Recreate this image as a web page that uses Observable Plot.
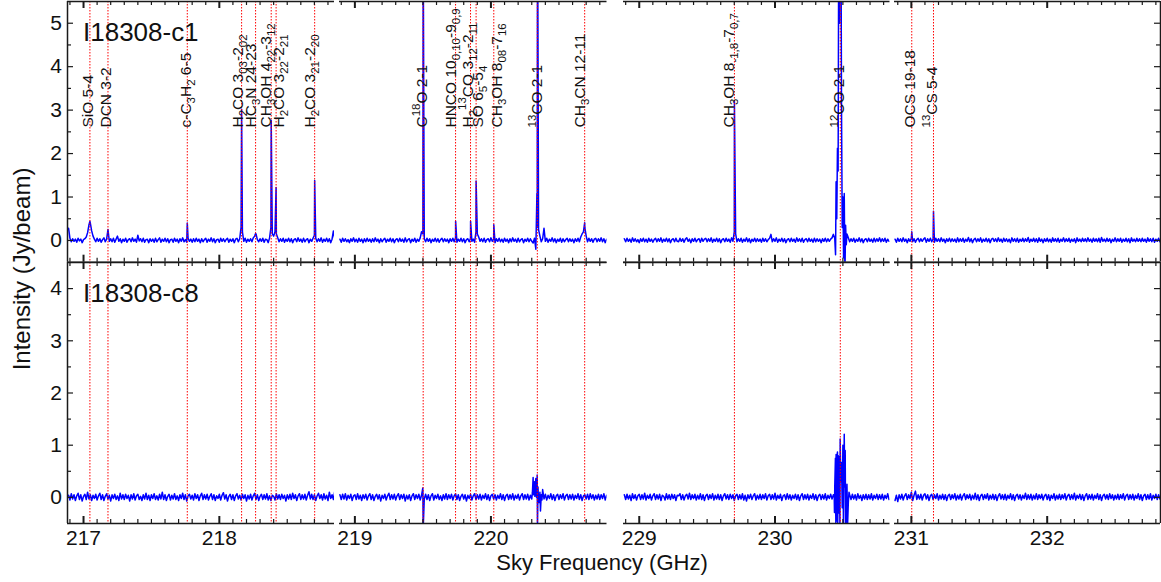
<!DOCTYPE html>
<html><head><meta charset="utf-8">
<script src="https://cdn.jsdelivr.net/npm/d3@7"></script>
<script src="https://cdn.jsdelivr.net/npm/@observablehq/plot@0.6"></script>
<style>
html,body{margin:0;padding:0;background:#fff;}
#chart{position:relative;width:1161px;height:582px;overflow:hidden;font-family:"Liberation Sans",Arial,Helvetica,sans-serif;}
#chart svg{position:absolute;overflow:visible;background:transparent;}
</style></head><body><div id="chart"></div>
<script>
// ---------------- DATA ----------------
const sources = ["I18308-c1", "I18308-c8"];
const chanWidth = 0.01; // GHz per channel
const segStart = [216.89, 218.89, 228.89, 230.88]; // first channel of each spectral window (GHz)
const segDomains = [[216.882, 218.848], [218.887, 220.853], [228.884, 230.847], [230.876, 232.834]];
const yDomains = [[-0.5, 5.5], [-0.5, 4.5]];
const xTickLabels = [217, 218, 219, 220, 229, 230, 231, 232];
const yTicksTop = [0, 1, 2, 3, 4, 5];
const yTicksBottom = [0, 1, 2, 3, 4];
const yMinorTop = [0.5, 1.5, 2.5, 3.5, 4.5];
const yMinorBottom = [0.5, 1.5, 2.5, 3.5];

// line identifications (sky frequency, GHz)
const lineFreqs = [217.047, 217.180, 217.764, 218.164, 218.267, 218.382, 218.418, 218.702,
  219.502, 219.740, 219.850, 219.891, 220.021, 220.341, 220.689,
  229.701, 230.481, 231.003, 231.163];
const lineLabels = ["SiO 5-4", "DCN 3-2", "c-C_3H_2 6-5", "H_2CO 3_{03}-2_{02}", "HC_3N 24-23",
  "CH_3OH 4_{22}-3_{12}", "H_2CO 3_{22}-2_{21}", "H_2CO 3_{21}-2_{20}",
  "C^{18}O 2-1", "HNCO 10_{0,10}-9_{0,9}", "H_2^{13}CO 3_{12}-2_{11}", "SO 6_5-5_4",
  "CH_3OH 8_{08}-7_{16}", "^{13}CO 2-1", "CH_3CN 12-11",
  "CH_3OH 8_{-1,8}-7_{0,7}", "^{12}CO 2-1", "OCS 19-18", "^{13}CS 5-4"];

// I18308-c1 spectra (Jy/beam), one value per channel
const c1Seg1 = [.28,.05,-.03,.04,-.02,.03,-.04,.05,-.01,.03,-.05,.02,.04,.08,.18,.36,.4,.22,.1,.03,
-.03,.05,-.02,.04,-.04,.02,.06,-.03,.03,.25,-.02,.04,-.03,.05,-.04,.03,.1,-.02,.04,-.05,
.03,-.02,.05,-.04,.02,.04,-.03,.06,-.02,.03,-.04,.12,-.01,.04,-.03,.05,-.04,.02,.03,-.05,
.04,-.02,.03,-.04,.05,-.03,.02,.06,-.04,.03,-.02,.05,-.03,.04,-.05,.02,.03,-.04,.05,-.02,
.03,-.05,.04,-.02,.06,-.03,.02,-.04,.05,-.02,.03,-.04,.04,-.03,.05,-.02,.03,-.05,.04,-.03,
.02,.05,-.04,.03,-.02,.06,-.03,.04,-.05,.02,.03,-.04,.05,-.02,.04,-.03,.02,.05,-.04,.03,
-.02,.04,-.05,.03,.05,-.03,.04,.3,.2,-.02,.05,-.04,.03,-.02,.04,-.03,.06,.1,.15,.02,
-.03,.04,-.02,.05,-.04,.03,.02,-.05,.06,.3,.15,.1,.2,.15,.06,-.03,.04,-.02,.05,-.04,
.03,-.02,.05,-.03,.04,-.05,.02,.04,-.03,.06,-.02,.03,-.04,.05,-.03,.02,.04,-.05,.03,-.02,
.05,.12,.05,-.03,.04,-.02,.06,-.04,.03,-.02,.05,-.03,.04,-.05,.03,.22,.04,-.03,.05,-.02];
const c1Seg2 = [.03,-.04,.05,-.02,.04,-.03,.02,-.05,.04,-.02,.06,-.03,.03,-.04,.05,-.02,.03,-.05,.04,-.03,
.05,-.02,.03,-.04,.04,-.03,.06,-.02,.03,-.05,.04,-.03,.02,.05,-.04,.03,-.02,.05,-.03,.04,
-.05,.02,.04,-.03,.05,-.02,.03,-.04,.06,-.03,.02,.04,-.05,.03,-.02,.05,-.04,.03,-.02,.06,
.2,.15,.04,-.03,.05,-.02,.04,-.05,.03,-.02,.05,-.03,.04,-.04,.02,.05,-.03,.04,-.02,.03,
-.05,.04,-.02,.05,-.03,.06,-.04,.03,-.02,.05,-.03,.04,-.05,.02,.04,-.03,.05,-.02,.03,-.04,
.2,.15,.08,-.02,.04,-.03,.05,-.04,.02,.04,-.03,.06,-.02,.03,-.05,.04,-.02,.05,-.03,.03,
-.04,.05,-.02,.03,-.05,.04,-.03,.06,-.02,.03,-.04,.05,-.03,.02,.04,-.05,.03,-.02,.05,-.03,
.04,-.02,-.06,.05,-.2,.3,.25,.1,-.03,.04,.28,-.02,.05,-.04,.03,-.02,.06,-.03,.04,-.05,
.03,-.02,.05,-.04,.04,-.03,.02,.05,-.03,.04,-.02,.03,-.05,.04,-.02,.05,-.03,.08,.15,.2,
.3,.1,-.03,.05,-.02,.04,-.04,.03,.05,-.03,.04,-.02,.06,-.03,.04,-.05,.03,-.02];
const c1Seg3 = [.04,-.03,.05,-.02,.03,-.04,.06,-.02,.04,-.03,.02,-.05,.04,-.02,.05,-.03,.03,-.04,.05,-.02,
.03,-.04,.02,.05,-.03,.04,-.02,.06,-.04,.03,-.02,.05,-.03,.04,-.05,.02,.04,-.03,.05,-.02,
-.03,.05,-.02,.04,-.04,.03,.06,-.02,.03,-.05,.04,-.02,.05,-.03,.02,.04,-.04,.05,-.02,.03,
.05,-.03,.04,-.02,.06,-.04,.03,-.02,.05,-.03,.04,-.05,.02,.04,-.03,.05,-.02,.03,-.04,.06,
-.02,.2,.15,-.03,.04,-.02,.05,-.04,.03,-.02,.06,-.03,.04,-.05,.03,-.02,.05,-.03,.04,-.02,
.03,-.04,.05,-.02,.04,-.03,.02,.05,.14,-.03,.04,-.02,.06,-.04,.03,-.02,.05,-.03,.04,-.05,
.02,.04,-.03,.05,-.02,.03,-.04,.06,-.02,.04,-.03,.05,-.04,.02,.04,-.03,.05,-.02,.03,-.04,
.05,-.03,.04,-.02,.03,-.05,.04,-.02,.05,-.03,.04,-.02,.03,.06,.14,.05,1.35,2.12,8,8,
3,1.0,1.08,.35,.15,.06,-.03,.04,-.02,.05,-.04,.03,-.02,.06,-.03,.04,-.05,.02,.04,-.03,
.05,-.02,.03,-.04,.05,-.03,.04,-.02,.06,-.03,.04,-.02,.05,-.04,.03,-.02];
const c1Seg4 = [.03,-.04,.05,-.02,.04,-.03,.06,-.02,.03,-.05,.04,-.02,.05,-.03,.04,-.04,.02,.05,-.03,.04,
-.02,.03,.06,-.04,.04,-.02,.05,-.03,.03,-.04,.05,-.02,.04,-.03,.06,-.02,.03,-.05,.04,-.02,
.05,-.03,.04,-.02,.03,-.04,.06,-.03,.04,-.02,.05,-.04,.03,-.02,.07,-.03,.04,-.05,.02,.05,
-.03,.04,-.02,.06,-.04,.03,-.02,.05,-.03,.04,-.05,.03,.05,-.02,.04,-.03,.06,-.02,.03,-.04,
.05,-.02,.04,-.03,.03,-.05,.06,-.02,.04,-.03,.05,-.04,.03,-.02,.05,-.03,.04,-.02,.07,-.04,
.03,-.02,.05,-.03,.04,-.04,.06,-.02,.03,-.05,.04,-.02,.05,-.03,.03,-.04,.06,-.02,.04,-.03,
.05,-.04,.03,-.02,.06,-.03,.04,-.02,.05,-.04,.03,-.02,.04,-.05,.06,-.02,.03,-.03,.05,-.02,
.04,-.03,.06,-.02,.03,-.04,.05,-.02,.04,-.03,.05,-.04,.07,-.02,.03,-.03,.05,-.02,.04,-.05,
.03,-.02,.06,-.03,.04,-.02,.05,-.04,.03,-.02,.05,-.03,.04,-.05,.06,-.02,.03,-.03,.05,-.02,
.04,-.03,.05,-.02,.03,-.04,.06,-.02,.04,-.03,.05,-.04,.03,-.02,.05,-.03,.04,-.02];
// narrow line peaks for I18308-c1: [GHz, Jy/beam]
const c1Peaks = [[217.047,.44],[217.764,.4],[218.164,3.02],[218.267,.16],[218.382,2.76],[218.418,1.22],[218.702,1.38],
[219.502,7],[219.7405,.44],[219.8505,.44],[219.891,1.37],[220.021,.36],[220.338,1.08],[220.3425,8],[220.689,.41],
[229.701,3.2],[230.446,-.33],[230.455,.5],[230.465,1.6],[230.475,5],[230.485,8],[230.495,.3],[230.505,-.4],[230.515,-.8],[230.525,-.1],
[231.003,.2],[231.163,.67]];

// I18308-c8 spectra (Jy/beam), one value per channel
const c8Seg1 = [.04,-.05,.07,-.03,.05,-.06,.03,.08,-.04,.05,-.07,.02,.06,-.04,.1,-.03,.05,-.06,.04,-.02,
.06,-.05,.03,.08,-.04,.05,-.06,.02,.07,-.03,.04,-.07,.05,-.02,.06,-.04,.03,-.06,.08,-.03,
.05,-.04,.06,-.02,.04,-.07,.05,-.03,.07,-.05,.03,.06,-.04,.02,-.06,.05,-.03,.08,-.04,.04,
-.06,.05,-.02,.07,-.04,.03,-.05,.06,-.03,.1,-.04,.05,-.06,.02,.06,-.05,.04,-.03,.07,-.04,
.03,-.06,.05,-.02,.08,-.04,.05,-.07,.03,.06,-.03,.04,-.05,.07,-.02,.05,-.06,.03,.08,-.04,
.05,-.03,.06,-.05,.02,.07,-.04,.05,-.06,.03,-.02,.06,-.05,.04,.09,-.03,.05,-.07,.02,.06,
-.04,.05,-.06,.03,.07,-.03,.04,-.05,.06,-.02,.05,-.07,.04,-.03,.06,-.05,.03,.08,-.04,.05,
-.06,.02,.06,-.04,.05,-.03,.07,-.05,.03,-.06,.04,.02,-.05,.07,-.03,.05,-.04,.06,-.02,.04,
-.07,.05,-.03,.06,-.04,.08,-.02,.05,-.06,.03,.07,-.04,.05,-.03,.06,-.05,.04,.11,-.03,.06,
-.04,.05,-.06,.03,.08,-.02,.05,-.05,.07,-.03,.04,-.06,.1,-.02,.05,-.04,.12,-.03];
const c8Seg2 = [.05,-.04,.06,-.03,.07,-.05,.04,-.02,.06,-.06,.03,.05,-.04,.07,-.03,.04,-.06,.05,-.02,.06,
-.05,.03,.07,-.04,.05,-.06,.02,.06,-.03,.05,-.07,.04,-.02,.06,-.05,.03,.08,-.04,.05,-.03,
.06,-.05,.03,.07,-.04,.05,-.02,.06,-.07,.04,-.03,.05,-.06,.03,.07,-.04,.05,-.02,.06,-.05,
.04,.1,-.03,.06,-.04,.05,-.06,.03,.07,-.05,.04,-.02,.06,-.04,.03,-.06,.05,-.03,.07,-.04,
.05,-.02,.06,-.05,.03,.07,-.04,.05,-.06,.02,.06,-.03,.05,-.07,.04,-.02,.06,-.05,.03,.07,
-.04,.05,-.03,.06,-.05,.04,-.02,.07,-.04,.05,-.06,.03,.06,-.03,.05,-.05,.04,-.02,.07,-.04,
.05,-.06,.03,.06,-.04,.05,-.03,.07,-.05,.04,-.02,.06,-.05,.03,.07,-.04,.05,-.03,.06,-.05,
.04,-.03,.38,.3,.36,.43,-.1,.1,.05,.15,-.03,.06,-.05,.04,-.02,.07,-.04,.05,-.06,.03,
.06,-.04,.05,-.02,.07,-.05,.03,.06,-.04,.05,-.03,.06,-.05,.04,-.02,.07,-.04,.05,-.06,.03,
.05,-.03,.06,-.04,.07,-.02,.05,-.05,.04,-.03,.06,-.04,.05,-.02,.07,-.05,.04,-.03];
const c8Seg3 = [.05,-.04,.06,-.03,.04,-.06,.07,-.02,.05,-.05,.03,.06,-.04,.05,-.03,.08,-.05,.04,-.02,.06,
-.05,.03,.07,-.04,.05,-.03,.06,-.06,.04,.02,-.05,.07,-.03,.05,-.04,.06,-.02,.05,-.06,.04,
.03,.07,-.04,.05,-.05,.03,.06,-.03,.08,-.04,.05,-.02,.06,-.05,.04,-.03,.07,-.04,.05,-.06,
.03,.06,-.04,.05,-.02,.07,-.05,.04,-.03,.06,-.04,.05,-.06,.03,.07,-.03,.05,-.04,.06,-.02,
.05,-.06,.03,.06,-.04,.05,-.03,.07,-.05,.04,-.07,.05,-.02,.06,-.04,.03,.07,-.05,.04,-.03,
.06,-.04,.05,-.02,.07,-.05,.03,.06,-.04,.05,-.03,.08,-.05,.04,-.02,.06,-.06,.03,.05,-.04,
.07,-.03,.05,-.05,.04,-.02,.06,-.04,.05,-.06,.03,.07,-.04,.05,-.03,.06,-.05,.04,-.02,.07,
-.04,.05,-.06,.03,.06,-.04,.05,-.03,.07,-.05,.04,-.02,.06,-.03,.05,.2,.82,.87,-.3,1.12,
.67,1.0,1.21,-.55,.25,-.1,.05,-.04,.06,-.03,.05,-.05,.07,-.02,.04,-.06,.05,-.03,.06,-.04,
.05,-.03,.07,-.05,.04,-.02,.06,-.04,.05,-.03,.06,-.05,.04,-.02,.07,-.04];
const c8Seg4 = [-.06,.04,-.08,.05,-.03,.06,-.05,.03,.07,-.04,.05,-.02,.1,-.06,.04,.12,-.04,.05,-.03,.06,
-.05,.04,.07,-.03,.05,-.06,.03,.06,-.04,.05,-.02,.07,-.05,.04,-.03,.06,-.04,.05,-.06,.03,
.06,-.04,.05,-.02,.07,-.05,.04,-.03,.06,-.05,.03,.07,-.04,.05,-.02,.06,-.05,.04,-.03,.08,
-.04,.05,-.06,.03,.06,-.04,.05,-.02,.07,-.05,.04,-.03,.06,-.04,.05,-.06,.03,.07,-.03,.05,
-.04,.06,-.05,.04,-.02,.07,-.04,.05,-.06,.03,.06,-.03,.05,-.05,.04,-.02,.08,-.04,.05,-.03,
.06,-.05,.04,-.03,.07,-.04,.05,-.02,.06,-.05,.03,.06,-.04,.05,-.06,.04,-.02,.07,-.05,.04,
-.03,.06,-.04,.05,-.02,.07,-.05,.03,.06,-.04,.05,-.03,.08,-.05,.04,-.02,.06,-.04,.05,-.06,
.03,.07,-.04,.05,-.03,.06,-.05,.04,-.02,.07,-.04,.05,-.06,.03,.06,-.03,.05,-.04,.07,-.02,
.05,-.05,.04,-.03,.06,-.04,.05,-.02,.07,-.05,.03,.06,-.04,.05,-.03,.06,-.05,.04,-.02,.07,
-.04,.05,-.06,.03,.06,-.04,.05,-.03,.07,-.05,.04,-.02,.06,-.04,.05,-.03];
const c8Peaks = [[219.499,.18],[219.502,-.6],
[220.305,.1],[220.313,.05],[220.323,.02],[220.327,.25],[220.335,0],[220.342,-.6],[220.346,.2],[220.355,-.1],[220.364,-.26],[220.375,-.05],
[230.436,.05],[230.438,-.29],[230.445,.75],[230.448,-.5],[230.455,-.45],[230.458,.8],[230.462,-.5],[230.466,.8],[230.474,.78],[230.478,-.5],
[230.484,.3],[230.495,-.2],[230.504,-.5],[230.513,.2],[230.517,.9],[230.523,-.55],[230.535,-.5],[230.545,.1]];

// ---------------- LAYOUT ----------------
const segPx = [[66.5, 333.5], [338.5, 606], [622.5, 889], [894, 1160]];
const rowPx = [[1, 261.7], [261.7, 522.7]];
const labelNudge = [-1.8, -2, -1.5, -3.6, -4.8, -5.3, 3.3, -4.5, -1.5, -5, -2.7, 1.8, 3, 0, -4.5, -5, -1, -2.2, -1.9];
const FONT = "'Liberation Sans', Arial, Helvetica, sans-serif";
const AX = "#1a1a1a";
const LABEL_SIZE = 15.5, SUB_SIZE = 11.5;

const baseRows = [[c1Seg1, c1Seg2, c1Seg3, c1Seg4], [c8Seg1, c8Seg2, c8Seg3, c8Seg4]];
const peakRows = [c1Peaks, c8Peaks];

function spectrum(r, s) {
  const base = baseRows[r][s];
  const [lo, hi] = segDomains[s];
  const pts = base.map((v, i) => ({f: segStart[s] + i * chanWidth, v}));
  for (const [f, v] of peakRows[r]) if (f >= lo && f <= hi) pts.push({f, v});
  return d3.sort(pts, d => d.f);
}

// turn "_{..}" / "^{..}" markup into real sub/superscript tspans
function richify(svg) {
  const ns = "http://www.w3.org/2000/svg";
  svg.querySelectorAll("text").forEach(t => {
    const s = t.textContent;
    if (!/[_^]/.test(s)) return;
    t.textContent = "";
    const re = /([_^])\{([^}]*)\}|([_^])(.)|([^_^]+)/g;
    let m, shift = 0;
    while ((m = re.exec(s))) {
      let txt, mode = 0;
      if (m[1]) { mode = m[1] === "_" ? 1 : -1; txt = m[2]; }
      else if (m[3]) { mode = m[3] === "_" ? 1 : -1; txt = m[4]; }
      else txt = m[5];
      const ts = document.createElementNS(ns, "tspan");
      const target = mode === 1 ? 4 : mode === -1 ? -6.5 : 0;
      ts.setAttribute("dy", target - shift);
      shift = target;
      if (mode) ts.setAttribute("font-size", SUB_SIZE);
      ts.textContent = txt;
      t.appendChild(ts);
    }
  });
}

const chart = document.getElementById("chart");

for (let r = 0; r < 2; r++) {
  for (let s = 0; s < 4; s++) {
    const [x0, x1] = segPx[s], [y0, y1] = rowPx[r];
    const pw = x1 - x0, ph = y1 - y0;
    const mL = s === 0 ? 66 : 0, mR = s === 3 ? 1 : 0, mT = r === 0 ? 1 : 0, mB = r === 1 ? 58 : 0;
    const dom = segDomains[s], yd = yDomains[r];
    const minor = d3.ticks(dom[0], dom[1], 20).filter(t => Math.abs(t - Math.round(t)) > 1e-6);
    const major = xTickLabels.filter(t => t >= dom[0] && t <= dom[1]);
    const lines = lineFreqs.map((f, i) => ({f, i})).filter(d => d.f >= dom[0] && d.f <= dom[1]);
    const marks = [
      Plot.line(spectrum(r, s), {x: "f", y: "v", stroke: "#0000ff", strokeWidth: 1.5, clip: true}),
      Plot.ruleX(lines, {x: "f", stroke: "#ff0000", strokeWidth: 1, strokeDasharray: "1.5,1.5"}),
      Plot.ruleY(yd, {stroke: AX, strokeWidth: 1.5}),
      Plot.tickX(minor, {x: d => d, insetTop: ph - 4, stroke: AX, strokeWidth: 1.2}),
      Plot.tickX(minor, {x: d => d, insetBottom: ph - 4, stroke: AX, strokeWidth: 1.2}),
      Plot.tickX(major, {x: d => d, insetTop: ph - 7, stroke: AX, strokeWidth: 2}),
      Plot.tickX(major, {x: d => d, insetBottom: ph - 7, stroke: AX, strokeWidth: 2})
    ];
    const yMaj = r === 0 ? yTicksTop : yTicksBottom;
    const yMin = r === 0 ? yMinorTop : yMinorBottom;
    if (s === 0) {
      marks.push(
        Plot.ruleX([dom[0]], {x: d => d, stroke: AX, strokeWidth: 1.5}),
        Plot.tickY(yMaj, {y: d => d, insetRight: pw - 6, stroke: AX, strokeWidth: 1.2}),
        Plot.tickY(yMin, {y: d => d, insetRight: pw - 4, stroke: AX, strokeWidth: 1.2}),
        Plot.text(yMaj, {y: d => d, text: d => String(d), frameAnchor: "left", dx: -5.5, textAnchor: "end", fontSize: 21, fill: "#111"}),
        Plot.text([sources[r]], {text: d => d, frameAnchor: "top-left", dx: 15.5, dy: r === 0 ? 21.5 : 21, lineAnchor: "top", textAnchor: "start", fontSize: 26, fill: "#111"})
      );
    }
    if (s === 3) {
      marks.push(
        Plot.ruleX([dom[1]], {x: d => d, stroke: AX, strokeWidth: 1.5}),
        Plot.tickY(yMaj, {y: d => d, insetLeft: pw - 6, stroke: AX, strokeWidth: 1.2}),
        Plot.tickY(yMin, {y: d => d, insetLeft: pw - 4, stroke: AX, strokeWidth: 1.2})
      );
    }
    if (r === 1) {
      marks.push(Plot.text(major, {x: d => d, text: d => String(d), frameAnchor: "bottom", dy: 7, lineAnchor: "top", fontSize: 21, fill: "#111"}));
    }
    if (r === 0) {
      for (const d of lines) {
        marks.push(Plot.text([d], {x: "f", y: 2.6, text: e => lineLabels[e.i], rotate: -90, textAnchor: "start",
          fontSize: LABEL_SIZE, fill: "#111", dx: labelNudge[d.i]}));
      }
    }
    const svg = Plot.plot({
      width: pw + mL + mR, height: ph + mT + mB,
      marginLeft: mL, marginRight: mR, marginTop: mT, marginBottom: mB,
      x: {domain: dom, axis: null}, y: {domain: yd, axis: null},
      style: {fontFamily: FONT, background: "transparent", overflow: "visible"},
      marks
    });
    svg.style.position = "absolute";
    svg.style.left = (x0 - mL) + "px";
    svg.style.top = (y0 - mT) + "px";
    richify(svg);
    chart.appendChild(svg);
  }
}

// axis titles
const titles = d3.create("svg").attr("width", 1161).attr("height", 582)
  .style("left", "0px").style("top", "0px").style("position", "absolute").style("pointer-events", "none");
titles.append("text").attr("x", 602).attr("y", 570).attr("text-anchor", "middle")
  .attr("font-family", FONT).attr("font-size", 22).attr("fill", "#111").text("Sky Frequency (GHz)");
titles.append("text").attr("transform", "translate(30,269) rotate(-90)").attr("text-anchor", "middle")
  .attr("font-family", FONT).attr("font-size", 24).attr("fill", "#111").text("Intensity (Jy/beam)");
chart.appendChild(titles.node());
</script></body></html>
